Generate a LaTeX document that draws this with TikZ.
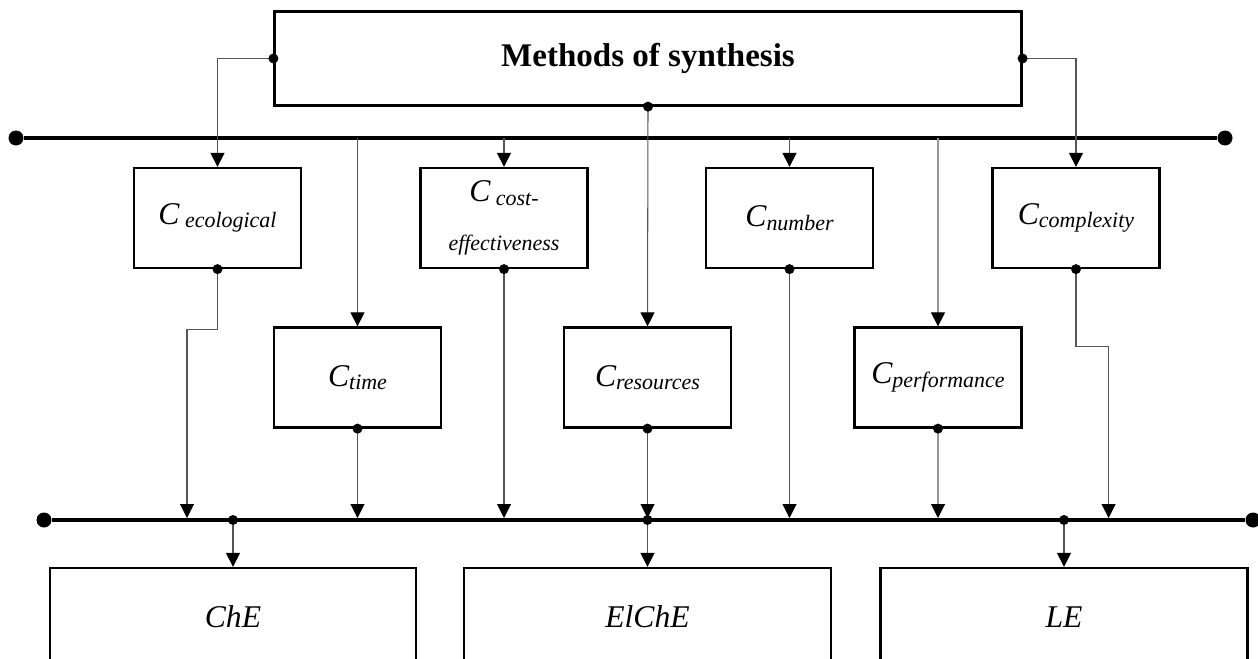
\documentclass[tikz,border=0pt]{standalone}
\usepackage{fontspec}
\setmainfont{Liberation Serif}
\usetikzlibrary{arrows.meta,calc}
\definecolor{Wire}{RGB}{85,85,85}
\definecolor{WireLight}{RGB}{150,150,150}
\newcommand{\bigsz}{\fontsize{18}{20}\selectfont}
\newcommand{\subsz}{\fontsize{12.5}{14}\selectfont}
\newcommand{\crit}[1]{{\bigsz\itshape C}\raisebox{-2pt}{\subsz\itshape #1}}

\begin{document}
\begin{tikzpicture}[x=0.02cm, y=-0.02cm,
    box/.style={draw, line width=1.3pt, inner sep=0pt, minimum width=3.34cm, minimum height=2cm, align=center},
    wire/.style={draw=Wire, line width=0.6pt},
    feed/.style={wire, -{Triangle[width=0.28cm, length=0.28cm, black]}},
    bus/.style={line width=2.2pt},
    dot/.style={circle, fill, inner sep=0pt, minimum size=0.2cm},
    busend/.style={circle, fill, inner sep=0pt, minimum size=0.3cm}]
    %%Background
    \useasboundingbox (0,0) rectangle (1258,659);
    \clip (0,0) rectangle (1258,659);

    %% Methods of synthesis
    \node[box, minimum width=14.94cm, minimum height=1.88cm,
      font=\bfseries\fontsize{18.8}{20}\selectfont] (synth) at (648,58.5) {Methods of synthesis};

    %% Upper bus
    \node[busend] (topL) at (16,138) {};
    \node[busend] (topR) at (1225,138) {};
    \draw[bus] (topL) -- (topR);

    %% Criteria, first row
    \node[box] (ecol) at (217.5,218) {\crit{\ ecological}};
    \node[box, font=\bigsz] (cost) at (504,218) {\crit{\ cost-}\\[8pt]{\subsz\itshape effectiveness}};
    \node[box] (num) at (789.5,218) {\crit{number}};
    \node[box] (cplx) at (1076,218) {\crit{complexity}};

    %% Criteria, second row
    \node[box] (time) at (357.5,377.5) {\crit{time}};
    \node[box] (res) at (647.5,377.5) {\crit{resources}};
    \node[box] (perf) at (938,377.5) {\crit{performance}};

    %% Lower bus
    \node[busend] (botL) at (44,520) {};
    \node[busend] (botR) at (1253,520) {};
    \draw[bus] (botL) -- (botR);

    %% Methods
    \node[box, minimum width=7.32cm, minimum height=1.96cm, font=\bigsz\itshape] (che) at (233,617) {ChE};
    \node[box, minimum width=7.34cm, minimum height=1.96cm, font=\bigsz\itshape] (elche) at (647.5,617) {ElChE};
    \node[box, minimum width=7.34cm, minimum height=1.96cm, font=\bigsz\itshape] (le) at (1064,617) {LE};

    %% From the synthesis box
    \draw[feed] (synth.west) -| (ecol.north);
    \draw[feed] (synth.east) -| (cplx.north);
    \draw[feed] (synth.south) -- (res.north);

    %% From the upper bus
    \draw[feed] (cost.north |- topL) -- (cost.north);
    \draw[feed] (num.north |- topL) -- (num.north);
    \draw[feed] (time.north |- topL) -- (time.north);
    \draw[feed, draw=WireLight] (perf.north |- topL) -- (perf.north);

    %% Into the lower bus
    \coordinate (ecolIn) at (187,518);
    \coordinate (cplxIn) at (1108.6,518);
    \draw[feed] (ecol.south) -- ++(0,60) -| (ecolIn);
    \draw[feed] (cplx.south) -- ++(0,77) -| (cplxIn);
    \draw[feed] (cost.south) -- (cost.south |- ecolIn);
    \draw[feed] (num.south) -- (num.south |- ecolIn);
    \draw[feed] (time.south) -- (time.south |- ecolIn);
    \draw[feed] (res.south) -- (res.south |- ecolIn);
    \draw[feed, draw=WireLight] (perf.south) -- (perf.south |- ecolIn);

    %% Out of the lower bus
    \node[dot] (tapChE) at (che.north |- botL) {};
    \node[dot] (tapElChE) at (elche.north |- botL) {};
    \node[dot] (tapLE) at (le.north |- botL) {};
    \draw[feed] (tapChE) -- (che.north);
    \draw[feed] (tapElChE) -- (elche.north);
    \draw[feed] (tapLE) -- (le.north);

    %% Junction dots
    \node[dot] (synthW) at (synth.west) {};
    \node[dot] (synthE) at (synth.east) {};
    \node[dot] (synthS) at (synth.south) {};
    \foreach \n in {ecol,cost,num,cplx,time,res,perf}
      \node[dot] (\n Out) at (\n.south) {};
\end{tikzpicture}
\end{document}
